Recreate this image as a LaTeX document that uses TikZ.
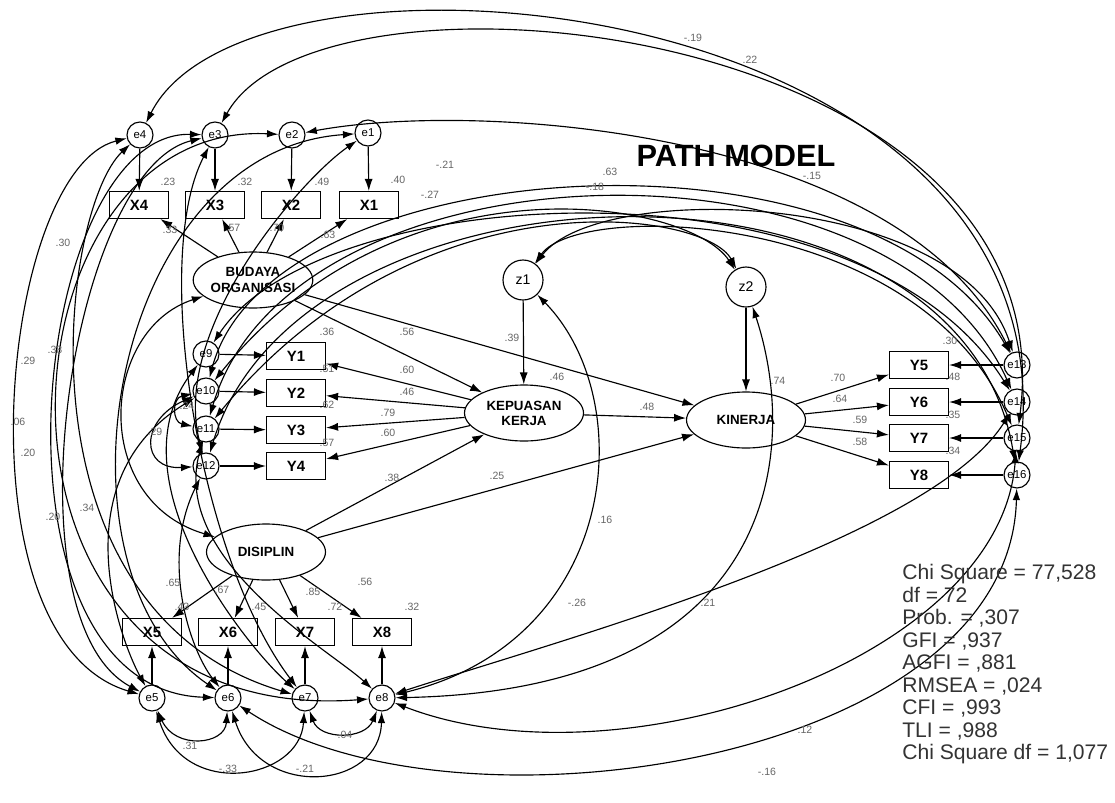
\documentclass[tikz,border=0pt]{standalone}
\usepackage{fontspec}
\setmainfont{Liberation Sans}
\usetikzlibrary{arrows.meta,shapes.geometric}

\tikzset{
  ln/.style={line width=0.65pt, draw=black},
  err/.style={circle, draw, line width=0.65pt, minimum size=0.52cm, inner sep=0pt,
    font=\fontsize{6.5}{6.5}\selectfont},
  dist/.style={circle, draw, line width=0.65pt, minimum size=0.8cm, inner sep=0pt,
    font=\fontsize{8}{8}\selectfont},
  obs/.style={rectangle, draw, line width=0.65pt, minimum width=1.18cm, minimum height=0.54cm,
    inner sep=0pt, font=\bfseries\fontsize{8.5}{9}\selectfont},
  lat/.style={ellipse, draw, line width=0.65pt, minimum width=2.38cm, minimum height=1.12cm,
    inner sep=0pt, align=center, font=\bfseries\fontsize{7.6}{8.6}\selectfont},
  pth/.style={ln, -{Latex[length=2.4mm,width=1.6mm]}},
  cov/.style={ln, {Latex[length=2.3mm,width=1.5mm]}-{Latex[length=2.3mm,width=1.5mm]}},
  lbl/.style={font=\fontsize{6}{6}\selectfont, text=black!60, inner sep=0pt},
}

\begin{document}
\begin{tikzpicture}[x=0.02cm, y=-0.02cm]
\fill[white] (0,0) rectangle (1115,802);
\useasboundingbox (0,0) rectangle (1115,802);

% ---------- latent variables ----------
\node[lat] (BO)  at (253,280) {BUDAYA\\ORGANISASI};
\node[lat] (DIS) at (266,552) {DISIPLIN};
\node[lat] (KK)  at (524,413) {KEPUASAN\\KERJA};
\node[lat] (KIN) at (746,420) {KINERJA};
\node[dist] (z1) at (523,280) {z1};
\node[dist] (z2) at (746,287) {z2};

% ---------- indicators of BUDAYA ORGANISASI ----------
\node[obs] (X4) at (139,205) {X4};
\node[obs] (X3) at (215,205) {X3};
\node[obs] (X2) at (291,205) {X2};
\node[obs] (X1) at (369,205) {X1};
\node[err] (e4) at (140,135) {e4};
\node[err] (e3) at (215,135) {e3};
\node[err] (e2) at (292,135) {e2};
\node[err] (e1) at (368,133) {e1};

% ---------- indicators of KEPUASAN KERJA ----------
\node[obs] (Y1) at (296,356) {Y1};
\node[obs] (Y2) at (296,393) {Y2};
\node[obs] (Y3) at (296,430) {Y3};
\node[obs] (Y4) at (296,466) {Y4};
\node[err] (e9)  at (206,354) {e9};
\node[err] (e10) at (206,391) {e10};
\node[err] (e11) at (206,429) {e11};
\node[err] (e12) at (206,466) {e12};

% ---------- indicators of KINERJA ----------
\node[obs] (Y5) at (919,365) {Y5};
\node[obs] (Y6) at (919,402) {Y6};
\node[obs] (Y7) at (919,438) {Y7};
\node[obs] (Y8) at (919,475) {Y8};
\node[err] (e13) at (1017,365) {e13};
\node[err] (e14) at (1017,402) {e14};
\node[err] (e15) at (1017,438) {e15};
\node[err] (e16) at (1017,475) {e16};

% ---------- indicators of DISIPLIN ----------
\node[obs] (X5) at (152,632) {X5};
\node[obs] (X6) at (228,632) {X6};
\node[obs] (X7) at (305,632) {X7};
\node[obs] (X8) at (382,632) {X8};
\node[err] (e5) at (152,698) {e5};
\node[err] (e6) at (228,698) {e6};
\node[err] (e7) at (305,698) {e7};
\node[err] (e8) at (382,698) {e8};

% ---------- measurement paths ----------
\foreach \x in {1,2,3,4} {
  \draw[pth] (BO) -- (X\x);
  \draw[pth] (e\x) -- (X\x);
}
\foreach \x/\e in {5/5,6/6,7/7,8/8} {
  \draw[pth] (DIS) -- (X\x);
  \draw[pth] (e\e) -- (X\x);
}
\foreach \y/\e in {1/9,2/10,3/11,4/12} {
  \draw[pth] (KK) -- (Y\y);
  \draw[pth] (e\e) -- (Y\y);
}
\foreach \y/\e in {5/13,6/14,7/15,8/16} {
  \draw[pth] (KIN) -- (Y\y);
  \draw[pth] (e\e) -- (Y\y);
}

% ---------- structural paths ----------
\draw[pth] (BO)  -- (KK);
\draw[pth] (BO)  -- (KIN);
\draw[pth] (DIS) -- (KK);
\draw[pth] (DIS) -- (KIN);
\draw[pth] (KK)  -- (KIN);
\draw[pth] (z1)  -- (KK);
\draw[pth] (z2)  -- (KIN);

% ---------- covariances: wide arcs over the top ----------
\draw[cov] (e4) .. controls (250,-85) and (1080,-10) .. (e16);
\draw[cov] (e3) .. controls (320,-55) and (1070,20) .. (e15);

% ---------- covariances: upper bundle towards e13-e16 ----------
\draw[cov] (e2)  .. controls (480,100) and (900,130) .. (e13);
\draw[cov] (e10) .. controls (270,150) and (870,110) .. (e13);
\draw[cov] (e11) .. controls (290,140) and (890,120) .. (e14);
\draw[cov] (e9)  .. controls (320,180) and (860,150) .. (e14);
\draw[cov] (e12) .. controls (300,150) and (960,130) .. (e16);

% ---------- covariances of the disturbances ----------
\draw[cov] (z1) .. controls (600,180) and (960,190) .. (e13);
\draw[cov] (z1) .. controls (580,200) and (920,210) .. (e15);
\draw[cov] (z2) .. controls (690,200) and (400,150) .. (e10);
\draw[cov] (z2) .. controls (705,210) and (420,170) .. (e11);
\draw[cov] (z1) .. controls (640,400) and (620,640) .. (e8);
\draw[cov] (z2) .. controls (800,450) and (780,690) .. (e8);

% ---------- covariances: left-hand arcs ----------
\draw[cov] (e4) .. controls (0,170) and (-45,640) .. (e5);
\draw[cov] (e3) .. controls (30,130) and (-25,690) .. (e6);
\draw[cov] (e4) .. controls (60,210) and (10,610) .. (e7);
\draw[cov] (e2) .. controls (-10,120) and (-50,730) .. (e8);
\draw[cov] (e3) .. controls (70,170) and (5,620) .. (e5);
\draw[cov] (e1) .. controls (110,150) and (40,570) .. (e6);
\draw[cov] (e3) .. controls (150,260) and (200,560) .. (e7);
\draw[cov] (e1) .. controls (300,180) and (170,330) .. (e12);
\draw[cov] (BO) .. controls (100,330) and (90,500) .. (DIS);

% ---------- covariances: Y1-Y4 errors ----------
\draw[cov] (e10) .. controls (60,480) and (120,640) .. (e5);
\draw[cov] (e9)  .. controls (110,480) and (250,650) .. (e7);
\draw[cov] (e11) .. controls (170,560) and (330,650) .. (e8);
\draw[cov] (e12) .. controls (160,560) and (190,650) .. (e6);
\draw[cov] (e10) .. controls (140,420) and (140,470) .. (e12);
\draw[cov] (e10) .. controls (172,398) and (172,422) .. (e11);

% ---------- covariances: X5-X8 errors ----------
\draw[cov] (e5) .. controls (175,750) and (225,745) .. (e6);
\draw[cov] (e5) .. controls (185,800) and (300,780) .. (e7);
\draw[cov] (e6) .. controls (260,800) and (380,790) .. (e8);
\draw[cov] (e7) .. controls (320,740) and (365,740) .. (e8);
\draw[cov] (e6) .. controls (450,845) and (1010,765) .. (e16);
\draw[cov] (e8) .. controls (620,790) and (1000,660) .. (e15);
\draw[cov] (e8) .. controls (560,640) and (930,540) .. (e14);

% ---------- estimates ----------
\foreach \t/\px/\py [count=\i] in {
  .33/170/230, .57/233/228, .70/277/228, .63/328/235,
  .23/168/182, .32/245/182, .49/322/182, .40/398/180,
  .36/327/332, .51/327/369, .62/327/405, .57/327/443,
  .56/407/332, .60/407/370, .46/407/392, .79/388/413, .60/388/433, .38/392/478,
  .39/512/338, .46/557/377, .48/647/407, .25/497/476, .74/778/381,
  .70/838/378, .64/840/399, .59/860/420, .58/860/442,
  .30/950/341, .48/953/377, .35/953/415, .34/953/451,
  .65/173/583, .67/222/590, .85/313/592, .56/365/582,
  .43/182/607, .45/259/607, .72/335/607, .32/412/607,
  .31/190/746, -.33/228/769, -.21/305/769, .04/345/735,
  .16/605/520, .21/708/603, -.26/577/603, .12/805/730, -.16/767/772,
  -.19/693/38, .22/750/60, -.21/445/165, -.27/430/195, .63/610/172, -.18/595/187, -.15/812/176,
  .30/63/243, .38/55/350, .29/28/361, .06/18/422, .20/28/453, .20/53/517, .34/87/508,
  .29/155/432, .24/187/406}
{
  \node[lbl] (est\i) at (\px,\py) {\t};
}

% ---------- title and fit statistics ----------
\node[font=\bfseries\fontsize{17.5}{17.5}\selectfont, inner sep=0pt] (title) at (736,156) {PATH MODEL};
\node[anchor=north west, align=left, inner sep=0pt, text=black!80,
      font=\fontsize{12}{12.8}\selectfont] (fit) at (902,564)
  {Chi Square = 77,528\\ df = 72\\ Prob. = ,307\\ GFI = ,937\\ AGFI = ,881\\
   RMSEA = ,024\\ CFI = ,993\\ TLI = ,988\\ Chi Square df = 1,077};
\end{tikzpicture}
\end{document}
